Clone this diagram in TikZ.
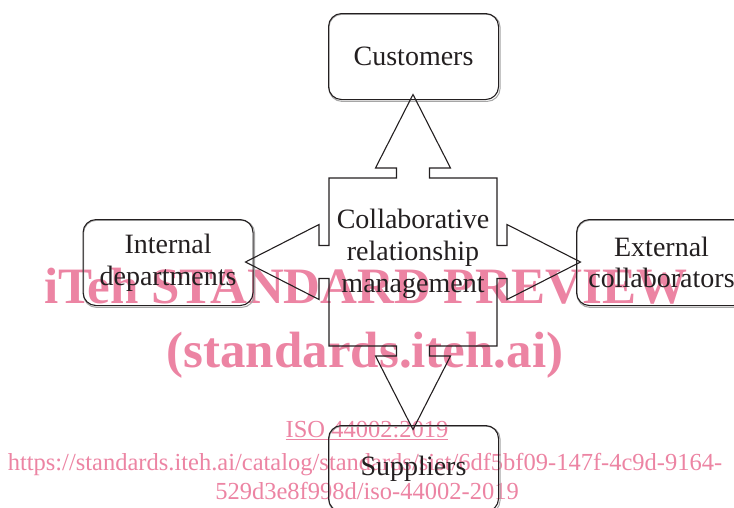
\documentclass[tikz,border=0pt]{standalone}
\usepackage{fontspec}
\setmainfont{Liberation Serif}
\usetikzlibrary{calc,backgrounds}
\definecolor{wmpink}{RGB}{236,132,163}
\definecolor{ink}{RGB}{35,31,32}
\begin{document}
\begin{tikzpicture}[x=1pt,y=-1pt,
  box/.style={draw=ink, line width=1.1pt, rounded corners=13pt,
    minimum width=170pt, minimum height=86pt, inner sep=0pt,
    anchor=north west, align=center, text=ink,
    font=\fontsize{28}{31.5}\selectfont},
  boxshadow/.style={draw=black!35, line width=1pt, rounded corners=13pt},
  hub/.style={draw=ink, line width=1.1pt, line join=miter},
  hubtext/.style={align=center, text=ink, inner sep=0pt,
    font=\fontsize{28}{32}\selectfont},
  wmbig/.style={text=wmpink, inner sep=0pt, anchor=base,
    font=\fontsize{51}{51}\selectfont\bfseries},
  wmsmall/.style={text=wmpink, inner sep=0pt, anchor=base,
    font=\fontsize{24.5}{24.5}\selectfont}]
\useasboundingbox (0,0) rectangle (734,507);
\clip (0,0) rectangle (734,507);

% boxes
\node[box] (cust) at (328,13) {Customers};
\node[box] (intd) at (82.5,219) {Internal\\departments};
\node[box] (extc) at (576,219) {External\\collaborators};
\node[box] (supp) at (328,425) {Suppliers};

% central four-way arrow
\coordinate (c) at (413,262);
\begin{scope}[shift={(c)}]
\draw[hub] (-84,-84) -- (-16.5,-84) -- (-16.5,-94) -- (-37.5,-94) -- (0,-167.5)
  -- (37.5,-94) -- (16.5,-94) -- (16.5,-84) -- (84,-84)
  -- (84,-16.5) -- (94,-16.5) -- (94,-37.5) -- (167.5,0) -- (94,37.5)
  -- (94,16.5) -- (84,16.5) -- (84,84)
  -- (16.5,84) -- (16.5,94) -- (37.5,94) -- (0,167.5) -- (-37.5,94)
  -- (-16.5,94) -- (-16.5,84) -- (-84,84)
  -- (-84,16.5) -- (-94,16.5) -- (-94,37.5) -- (-167.5,0) -- (-94,-37.5)
  -- (-94,-16.5) -- (-84,-16.5) -- cycle;
\end{scope}
\node[hubtext] (crm) at (413,254) {Collaborative\\relationship\\management};

\begin{scope}[on background layer]
% watermark
\node[wmbig] (wm1) at (366,303) {iTeh STANDARD PREVIEW};
\node[wmbig] (wm2) at (365,367) {(standards.iteh.ai)};
\node[wmsmall] (wm3) at (367,437) {\underline{ISO 44002:2019}};
\node[wmsmall] (wm4) at (365,470) {https://standards.iteh.ai/catalog/standards/sist/6df5bf09-147f-4c9d-9164-};
\node[wmsmall] (wm5) at (367,499) {529d3e8f998d/iso-44002-2019};
% box shadows
\foreach \b in {cust,intd,extc,supp}{
  \draw[boxshadow] ($(\b.north west)+(1,1.3)$) rectangle ($(\b.south east)+(1,1.3)$);
}
\end{scope}
\end{tikzpicture}
\end{document}
